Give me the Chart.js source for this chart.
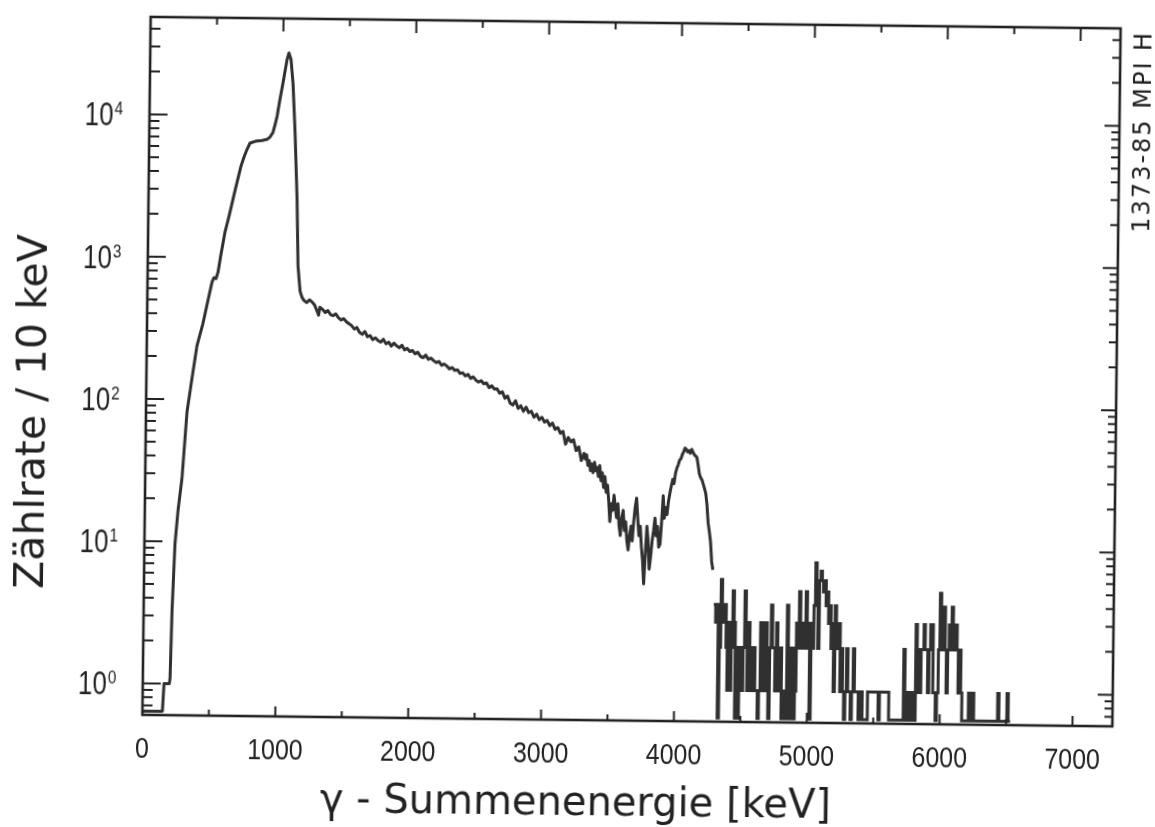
<!DOCTYPE html>
<html>
<head>
<meta charset="utf-8">
<script src="https://cdn.jsdelivr.net/npm/chart.js@4.4.1/dist/chart.umd.min.js"></script>
<style>
  html, body { margin: 0; padding: 0; background: #fff; }
  /* the scanned figure sits slightly skewed on the page */
  #spectrum { display: block; transform: rotate(0.68deg); }
</style>
</head>
<body>
<canvas id="spectrum" width="1155" height="827"></canvas>
<script>
// gamma sum-energy spectrum, counts per 10 keV

// low-energy rise, shoulder and the big peak near 1 MeV
const riseEnergy = [0, 150, 160, 200, 205, 214, 230, 250, 277, 309, 343, 378, 420, 457, 486, 500, 515, 530,
    550, 579, 610, 636, 665, 693, 715, 737, 759, 800, 850, 887, 910, 931, 945, 960, 980, 1002, 1030, 1044,
    1060, 1077, 1097, 1118, 1131, 1149];
const riseCounts = [0, 0, 1, 1, 1.1, 3.3, 9.6, 16.5, 28, 82, 140, 239, 340, 500, 673, 720, 710, 790,
    1050, 1514, 2000, 2580, 3400, 4400, 5100, 5780, 6400, 6600, 6700, 6820, 7100, 7650, 8600, 9900, 13000, 17100, 24800, 27700,
    25000, 17100, 7670, 2600, 888, 585];

// falling continuum
const contEnergy = [1165, 1180, 1200, 1220, 1240, 1260, 1280, 1290, 1300, 1320, 1340, 1360, 1380, 1400, 1420, 1440, 1460, 1480,
    1500, 1520, 1540, 1560, 1580, 1600, 1620, 1640, 1660, 1680, 1700, 1720, 1740, 1760, 1780, 1800, 1820, 1840, 1860, 1880,
    1900, 1920, 1940, 1960, 1980, 2000, 2020, 2040, 2060, 2080, 2100, 2120, 2140, 2160, 2180, 2200, 2220, 2240, 2260, 2280,
    2300, 2320, 2340, 2360, 2380, 2400, 2420, 2440, 2460, 2480, 2500, 2520, 2540, 2560, 2580, 2600, 2620, 2640, 2660, 2680,
    2700, 2720, 2740, 2760, 2780, 2800, 2820, 2840, 2860, 2880, 2900, 2920, 2940, 2960, 2980, 3000, 3020, 3040, 3060, 3080,
    3100, 3120, 3140, 3160, 3180, 3200, 3220, 3240, 3260, 3280];
const contCounts = [530, 505, 490, 512, 495, 470, 425, 400, 455, 440, 418, 432, 405, 398, 410, 385, 372, 380,
    362, 350, 340, 322, 330, 305, 296, 310, 285, 290, 272, 280, 268, 262, 274, 255, 262, 246, 258, 248,
    240, 250, 232, 238, 226, 230, 218, 224, 210, 205, 214, 200, 204, 196, 190, 194, 182, 186, 180, 172,
    176, 168, 170, 160, 162, 154, 158, 148, 152, 144, 140, 143, 136, 138, 128, 132, 125, 126, 117, 120,
    108, 112, 100, 97, 104, 92, 96, 88, 94, 86, 88, 80, 84, 77, 80, 74, 76, 70, 73, 66,
    68, 62, 64, 52, 58, 54, 56, 47, 50, 40];

// noisy dip and the peak near 4.1 MeV, 10 keV bins from 3300 keV
const dipStart = 3300;
const dipCounts = [
    45, 41, 44, 37, 40, 34, 38, 33, 39, 34,        // 3300-3390
    36, 31, 37, 29, 33, 26, 31, 24, 27, 21,        // 3400-3490
    15, 20, 18, 23, 19, 16, 20, 14, 12, 16,        // 3500-3590
    18, 13, 15, 11, 9.5, 12, 14, 11, 15, 19,       // 3600-3690
    22, 16, 12, 14, 10, 8, 5.5, 9, 14, 11,         // 3700-3790
    7, 8.5, 11, 13, 16, 12, 14, 10, 10.5, 15,      // 3800-3890
    23, 16, 19, 17, 21, 24, 27, 30, 28, 33,        // 3900-3990
    36, 38, 41, 42, 45, 47, 50, 49, 47, 48,        // 4000-4090
    46, 49, 47, 45, 44, 43, 38, 33, 31, 30,        // 4100-4190
    28, 26, 24, 20, 15, 13, 11, 8, 7               // 4200-4280
];

// low-count tail as a histogram, 10 keV bins from 4290 keV
const tailStart = 4290;
const tailCounts = [
    4, 4, 3, 4, 0, 2, 6, 4, 3, 4, 2, 1, 3, 1, 2, 5, 3, 0, 2, 0,      // 4290-4480
    2, 2, 1, 2, 5, 2, 1, 3, 2, 1, 1, 2, 1, 1, 0, 1, 3, 3, 1, 1,      // 4490-4680
    3, 1, 0, 2, 4, 2, 2, 1, 3, 2, 1, 2, 0, 1, 0, 0, 4, 1, 0, 2,      // 4690-4880
    2, 0, 1, 3, 2, 5, 3, 2, 3, 2, 5, 3, 2, 0, 3, 2, 4, 8, 4, 2,      // 4890-5080
    6, 7, 6, 5, 6, 4, 5, 3, 4, 2, 3, 1, 4, 3, 2, 3, 1, 2, 1, 0,      // 5090-5280
    1, 2, 1, 1, 0, 1, 2, 1, 1, 1, 0, 1, 1, 0, 0, 0, 0, 1, 1, 1,      // 5290-5480
    1, 1, 1, 1, 1, 0, 1, 1, 1, 1, 1, 1, 1, 0, 0, 0, 0, 0, 0, 0,      // 5490-5680
    0, 0, 0, 0, 2, 0, 1, 1, 0, 0, 1, 1, 0, 3, 1, 2, 1, 2, 2, 3,      // 5690-5880
    2, 2, 1, 2, 3, 3, 1, 1, 0, 1, 2, 5, 3, 2, 4, 2, 1, 2, 3, 2,      // 5890-6080
    4, 2, 2, 3, 2, 1, 2, 1, 0, 0, 0, 0, 0, 1, 1, 0, 1, 0, 0, 0,      // 6090-6280
    0, 0, 0, 0, 0, 0, 0, 0, 0, 0, 0, 0, 0, 0, 0, 1, 0, 0, 0, 0,      // 6290-6480
    0, 0, 1, 0, 0                                                    // 6490-6530
];
const binWidth = 10;

const xTickLabels = [0, 1000, 2000, 3000, 4000, 5000, 6000, 7000];
const yDecades = [0, 1, 2, 3, 4];

const X_MAX = 7300;
const Y_MIN = 0.637;
const Y_MAX = 48400;
const ink = '#222222';
const traceInk = '#303030';

// zero counts sit on the bottom axis
const toPoint = (e, c) => ({ x: e, y: c > 0 ? c : Y_MIN });

const mainPoints = []
    .concat(riseEnergy.map((e, i) => toPoint(e, riseCounts[i])))
    .concat(contEnergy.map((e, i) => toPoint(e, contCounts[i])))
    .concat(dipCounts.map((c, i) => toPoint(dipStart + i * binWidth, c)));
const tailPoints = tailCounts.map((c, i) => toPoint(tailStart + i * binWidth, c));

// narrow lettering like the stencil on the original
function narrowText(ctx, text, x, y, font, align, squeeze) {
    ctx.save();
    ctx.translate(x, y);
    ctx.scale(squeeze, 1);
    ctx.font = font;
    ctx.textAlign = align;
    ctx.textBaseline = 'alphabetic';
    ctx.fillText(text, 0, 0);
    ctx.restore();
}

// frame, inward ticks and all the lettering
const framePlugin = {
    id: 'frame',
    afterDraw(chart) {
        const ctx = chart.ctx;
        const { left, right, top, bottom } = chart.chartArea;
        const xs = chart.scales.x;
        const ys = chart.scales.y;
        ctx.save();
        ctx.strokeStyle = ink;
        ctx.fillStyle = ink;

        ctx.lineWidth = 2.6;
        ctx.strokeRect(left, top, right - left, bottom - top);

        ctx.lineWidth = 2;
        ctx.beginPath();
        for (let e = 500; e <= X_MAX; e += 500) {
            const px = xs.getPixelForValue(e);
            const major = e % 1000 === 0;
            ctx.moveTo(px, bottom);
            ctx.lineTo(px, bottom - (major ? 10 : 6));
            ctx.moveTo(px, top);
            ctx.lineTo(px, top + (major ? 13 : 7));
        }
        for (let d = -1; d <= 4; d++) {
            for (let m = 1; m <= 9; m++) {
                const v = m * Math.pow(10, d);
                if (v < Y_MIN || v > Y_MAX) continue;
                const py = ys.getPixelForValue(v);
                const major = m === 1;
                ctx.moveTo(left, py);
                ctx.lineTo(left + (major ? 18 : 10), py);
                ctx.moveTo(right, py);
                ctx.lineTo(right - (major ? 15 : 8), py);
            }
        }
        ctx.stroke();

        // x tick labels
        xTickLabels.forEach(v => {
            narrowText(ctx, String(v), xs.getPixelForValue(v), 763, '29px "Liberation Sans"', 'center', 0.86);
        });

        // y tick labels as 10 with a raised exponent
        yDecades.forEach(d => {
            const py = ys.getPixelForValue(Math.pow(10, d));
            narrowText(ctx, '10', 110, py + 12, '33px "Liberation Sans"', 'right', 0.78);
            narrowText(ctx, String(d), 111, py + 1, '18px "Liberation Sans"', 'left', 0.85);
        });

        // axis titles
        ctx.font = '40px "DejaVu Sans"';
        ctx.textAlign = 'center';
        ctx.textBaseline = 'alphabetic';
        ctx.fillText('γ - Summenenergie [keV]', 580, 815);

        ctx.save();
        ctx.translate(45, 418);
        ctx.rotate(-Math.PI / 2);
        ctx.font = '41px "DejaVu Sans"';
        ctx.fillText('Zählrate / 10 keV', 0, 0);
        ctx.restore();

        // plate number on the right edge
        ctx.save();
        ctx.translate(1147, 125);
        ctx.rotate(-Math.PI / 2);
        ctx.font = '24px "DejaVu Sans"';
        ctx.letterSpacing = '2px';
        ctx.fillText('1373-85 MPI H', 0, 0);
        ctx.restore();

        ctx.restore();
    }
};

const ctx = document.getElementById('spectrum').getContext('2d');
new Chart(ctx, {
    type: 'line',
    data: {
        datasets: [{
            data: mainPoints,
            borderColor: traceInk,
            borderWidth: 3,
            borderJoinStyle: 'round',
            pointRadius: 0,
            tension: 0,
            fill: false
        }, {
            data: tailPoints,
            stepped: 'middle',
            borderColor: traceInk,
            borderWidth: 3,
            pointRadius: 0,
            fill: false
        }]
    },
    options: {
        responsive: false,
        animation: false,
        events: [],
        layout: { padding: { left: 146, right: 39, top: 22, bottom: 107 } },
        plugins: {
            legend: { display: false },
            tooltip: { enabled: false }
        },
        scales: {
            x: { type: 'linear', min: 0, max: X_MAX, display: false },
            y: { type: 'logarithmic', min: Y_MIN, max: Y_MAX, display: false }
        }
    },
    plugins: [framePlugin]
});
</script>
</body>
</html>
